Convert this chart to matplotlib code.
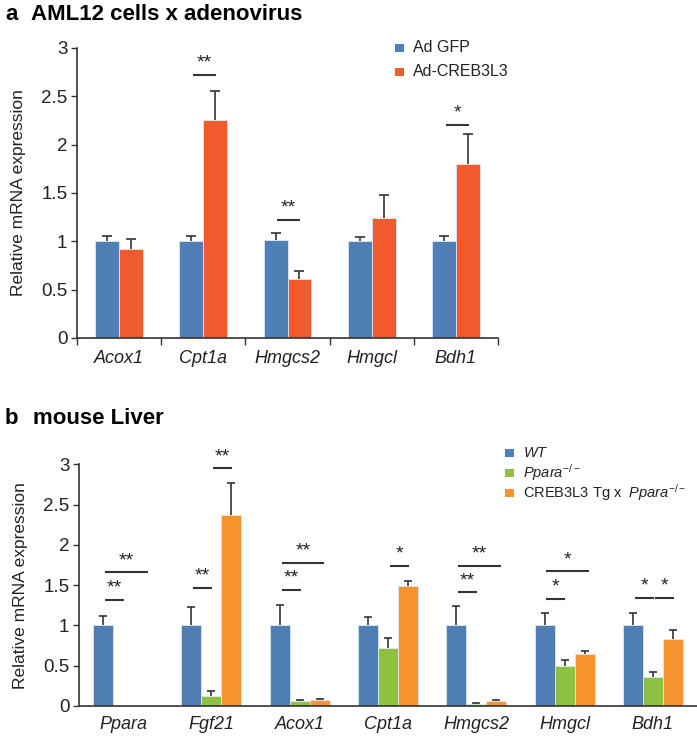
import matplotlib
matplotlib.use("Agg")
import matplotlib.pyplot as plt
import numpy as np
from matplotlib.patches import Rectangle

plt.rcParams['font.family'] = ['Liberation Sans', 'DejaVu Sans']
plt.rcParams['mathtext.fontset'] = 'custom'
plt.rcParams['mathtext.rm'] = 'Liberation Sans'
plt.rcParams['mathtext.it'] = 'Liberation Sans:italic'
plt.rcParams['mathtext.bf'] = 'Liberation Sans:bold'

# ---------------- Panel a data ----------------
genes_a = ['Acox1', 'Cpt1a', 'Hmgcs2', 'Hmgcl', 'Bdh1']
series_a = ['Ad GFP', 'Ad-CREB3L3']
gfp = [1.0, 1.0, 1.01, 1.0, 1.0]
gfp_err = [0.06, 0.06, 0.08, 0.04, 0.05]
creb = [0.92, 2.25, 0.61, 1.24, 1.80]
creb_err = [0.10, 0.31, 0.08, 0.24, 0.31]
# significance: (gene index, bar i, bar j, height, label)
sig_a = [(1, 0, 1, 2.72, '**'), (2, 0, 1, 1.22, '**'), (4, 0, 1, 2.20, '*')]

# ---------------- Panel b data ----------------
genes_b = ['Ppara', 'Fgf21', 'Acox1', 'Cpt1a', 'Hmgcs2', 'Hmgcl', 'Bdh1']
series_b = ['$\\it{WT}$', '$\\it{Ppara}^{-/-}$', 'CREB3L3 Tg x  $\\it{Ppara}^{-/-}$']
wt = [1.0, 1.0, 1.0, 1.0, 1.0, 1.0, 1.0]
wt_err = [0.12, 0.23, 0.25, 0.10, 0.24, 0.16, 0.16]
ko = [0.0, 0.13, 0.06, 0.72, 0.03, 0.50, 0.36]
ko_err = [0.0, 0.06, 0.01, 0.13, 0.01, 0.07, 0.06]
tg = [0.0, 2.37, 0.08, 1.49, 0.06, 0.65, 0.83]
tg_err = [0.0, 0.40, 0.01, 0.06, 0.01, 0.03, 0.11]
sig_b = [(0, 0, 1, 1.32, '**'), (0, 0, 2, 1.66, '**'),
         (1, 0, 1, 1.47, '**'), (1, 1, 2, 2.95, '**'),
         (2, 0, 1, 1.44, '**'), (2, 0, 2, 1.78, '**'),
         (3, 1, 2, 1.74, '*'),
         (4, 0, 1, 1.41, '**'), (4, 0, 2, 1.74, '**'),
         (5, 0, 1, 1.33, '*'), (5, 0, 2, 1.67, '*'),
         (6, 0, 1, 1.34, '*'), (6, 1, 2, 1.34, '*')]

BLUE = '#4f7fb4'
RED = '#f05a2c'
GREEN = '#8dc13f'
ORANGE = '#f7932f'
DARK = '#333333'

W, H = 697, 738
fig = plt.figure(figsize=(W / 100, H / 100), dpi=100)

def style_axes(ax, ncat, ticks):
    ax.set_ylim(0, 3)
    ax.set_xlim(0, ncat)
    ax.spines['top'].set_visible(False)
    ax.spines['right'].set_visible(False)
    for s in ['left', 'bottom']:
        ax.spines[s].set_color(DARK)
        ax.spines[s].set_linewidth(1.2)
    ax.set_yticks(np.arange(0, 3.01, 0.5))
    ax.set_yticklabels(['0', '0.5', '1', '1.5', '2', '2.5', '3'])
    ax.tick_params(axis='y', direction='out', length=4, width=1, color=DARK,
                   labelsize=13.5, labelcolor='#222222', pad=3)
    if ticks:
        ax.set_xticks(np.arange(0, ncat + 1))
        ax.set_xticklabels([])
        ax.tick_params(axis='x', which='major', direction='out', length=5, width=1, color=DARK)
    else:
        ax.set_xticks([])
    ax.set_ylabel('Relative mRNA expression', fontsize=12.5, color='#222222', labelpad=11)

def draw_err(ax, pos, vals, errs, cap):
    ev = np.array(errs)
    vv = np.array(vals)
    m = ev > 0
    cont = ax.errorbar(pos[m], vv[m], yerr=[np.zeros(m.sum()), ev[m]], fmt='none',
                       ecolor=DARK, elinewidth=1.2, capsize=cap, capthick=1.2, zorder=3)
    caps = cont.lines[1]
    if len(caps) == 2:
        caps[0].set_visible(False)

def draw_sig(ax, centers, sig, star_fs):
    for g, i, j, h, lab in sig:
        x0 = centers[g][i] + 0.02
        x1 = centers[g][j] + (0.05 if j - i > 1 else 0.01)
        ax.plot([x0, x1], [h, h], color=DARK, lw=1.5, solid_capstyle='butt')
        ax.text((x0 + x1) / 2, h + 0.04, lab, ha='center', va='bottom',
                fontsize=star_fs, color='#222222')

def manual_legend(colors, labels, x_sq, y_centers, x_txt, size, fs):
    for c, lab, yc in zip(colors, labels, y_centers):
        fig.patches.append(Rectangle((x_sq / W, 1 - (yc + size / 2) / H), size / W, size / H,
                                     transform=fig.transFigure, facecolor=c,
                                     edgecolor='none', figure=fig))
        fig.text(x_txt / W, 1 - yc / H, lab, fontsize=fs, va='center', ha='left',
                 color='#222222')

# ---------------- Panel a ----------------
axa = fig.add_axes([77 / W, 1 - 338 / H, 421 / W, 290 / H])
xa = np.arange(len(genes_a)) + 0.5
wa = 0.285
for k, (vals, errs, col) in enumerate([(gfp, gfp_err, BLUE), (creb, creb_err, RED)]):
    pos = xa + (k - 0.5) * wa
    axa.bar(pos, vals, width=wa, color=col, edgecolor='#dfe7f0', linewidth=0.6, zorder=2)
    draw_err(axa, pos, vals, errs, 3.5)
centers_a = [[x - 0.5 * wa, x + 0.5 * wa] for x in xa]
style_axes(axa, len(genes_a), True)
for x, g in zip(xa, genes_a):
    axa.text(x, -0.12, g, ha='center', va='top', fontsize=13, style='italic',
             color='#222222', transform=axa.transData)
draw_sig(axa, centers_a, sig_a, 14)
manual_legend([BLUE, RED], series_a, 395, [48, 72], 413, 8.5, 11.5)

fig.text(5 / W, 1 - 14 / H, 'a', fontsize=16, fontweight='bold', va='center')
fig.text(31 / W, 1 - 14 / H, 'AML12 cells x adenovirus', fontsize=16,
         fontweight='bold', va='center')

# ---------------- Panel b ----------------
axb = fig.add_axes([79 / W, 1 - 706 / H, 618 / W, 241.7 / H])
xb = np.arange(len(genes_b)) + 0.5
wb = 0.226
for k, (vals, errs, col) in enumerate([(wt, wt_err, BLUE), (ko, ko_err, GREEN), (tg, tg_err, ORANGE)]):
    pos = xb + (k - 1) * wb
    axb.bar(pos, vals, width=wb, color=col, edgecolor='#dfe7f0', linewidth=0.6, zorder=2)
    draw_err(axb, pos, vals, errs, 3)
centers_b = [[x - wb, x, x + wb] for x in xb]
style_axes(axb, len(genes_b), False)
for x, g in zip(xb, genes_b):
    axb.text(x, -0.12, g, ha='center', va='top', fontsize=13, style='italic',
             color='#222222', transform=axb.transData)
draw_sig(axb, centers_b, sig_b, 14)
manual_legend([BLUE, GREEN, ORANGE], series_b, 505, [453, 473, 493], 523, 8.5, 10.5)

fig.text(5 / W, 1 - 418 / H, 'b', fontsize=16, fontweight='bold', va='center')
fig.text(33 / W, 1 - 418 / H, 'mouse Liver', fontsize=16, fontweight='bold', va='center')

fig.savefig('out.png', dpi=100)
